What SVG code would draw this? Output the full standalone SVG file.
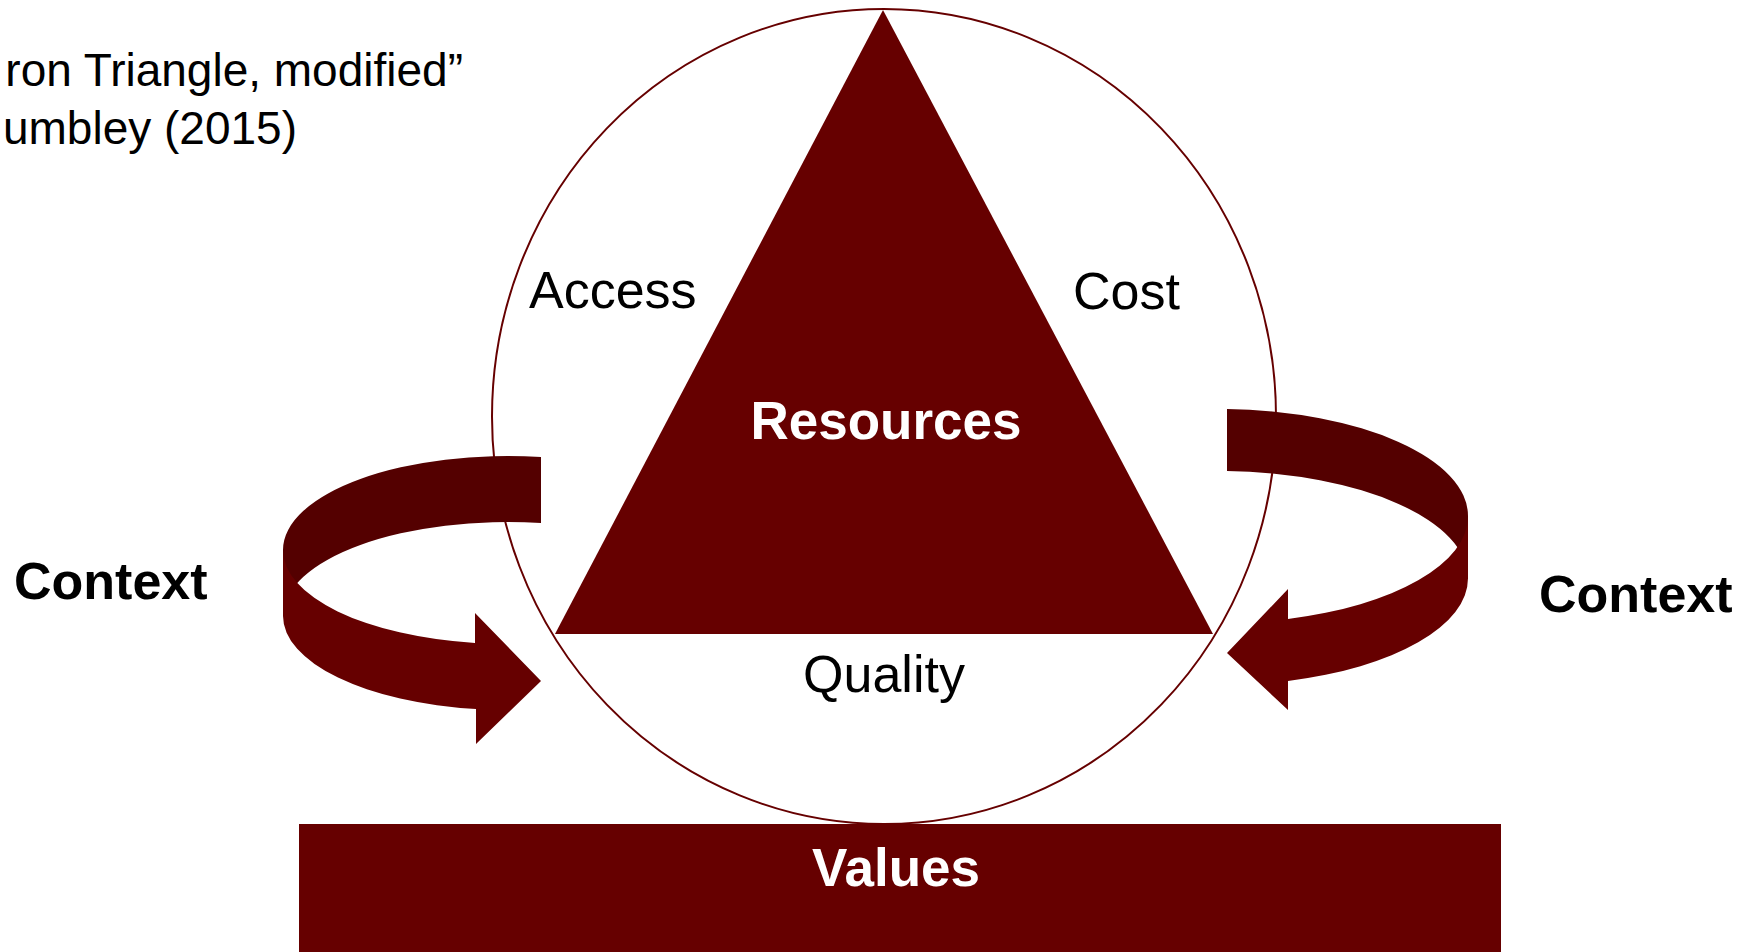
<svg xmlns="http://www.w3.org/2000/svg" width="1756" height="952" viewBox="0 0 1756 952">
<style>
.t{font-family:"Liberation Sans",Arial,sans-serif;fill:#000}
.b{font-weight:bold}
.w{fill:#fff}
.dark{fill:#660000}
.back{fill:#540000}
</style>
<rect width="1756" height="952" fill="#fff"/>
<g id="title">
<text class="t" x="463" y="86" font-size="46" text-anchor="end">ron Triangle, modified”</text>
<text class="t" x="297" y="144" font-size="46" text-anchor="end">umbley (2015)</text>
</g>
<g id="circle">
<ellipse cx="884" cy="416.5" rx="392" ry="407.5" fill="none" stroke="#660000" stroke-width="2"/>
</g>
<g id="triangle">
<polygon class="dark" points="883,10 555,634 1213,634"/>
<text class="t b w" x="886" y="439" font-size="53" text-anchor="middle">Resources</text>
</g>
<g id="labels">
<text class="t" x="529" y="308" font-size="52">Access</text>
<text class="t" x="1073" y="309" font-size="52">Cost</text>
<text class="t" x="884" y="692" font-size="52" text-anchor="middle">Quality</text>
</g>
<g id="connectors">
<g id="left-arrow">
<path class="back" d="M541,457 A225 94 0 0 0 283,550 L283,616 A225 94 0 0 1 541,523 Z"/>
<path class="dark" d="M283,550 A225 94 0 0 0 475,643 L475,613 L541,681 L476,744 L476,709 A225 94 0 0 1 283,616 Z"/>
</g>
<g id="right-arrow">
<path class="back" d="M1227,409 A250 107 0 0 1 1468,516 L1468,578 A250 107 0 0 0 1227,471 Z"/>
<path class="dark" d="M1468,516 A250 107 0 0 1 1288,619 L1288,589 L1227,653 L1288,710 L1288,681 A250 107 0 0 0 1468,578 Z"/>
</g>
</g>
<g id="context-left">
<text class="t b" x="14" y="599" font-size="52">Context</text>
</g>
<g id="context-right">
<text class="t b" x="1539" y="612" font-size="52">Context</text>
</g>
<g id="values">
<rect class="dark" x="299" y="824" width="1202" height="128"/>
<text class="t b w" x="896" y="886" font-size="53" text-anchor="middle">Values</text>
</g>
</svg>
